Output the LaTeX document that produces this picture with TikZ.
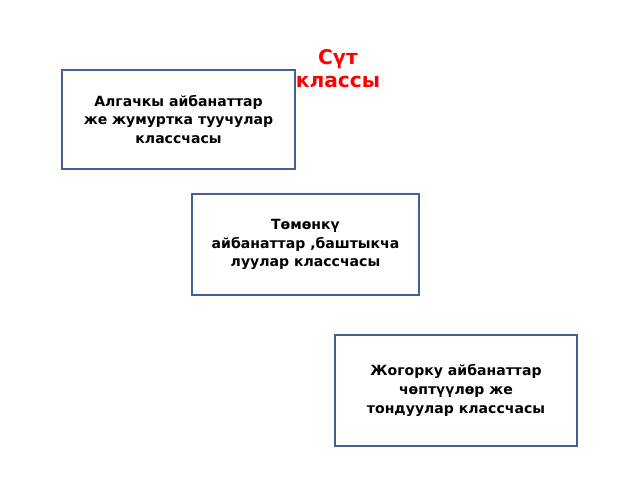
\documentclass[tikz,border=0pt]{standalone}
\usepackage{fontspec}
\setmainfont{DejaVu Sans}
\definecolor{boxline}{RGB}{68,96,150}
\tikzset{
  classbox/.style={draw=boxline,line width=0.9pt,fill=white,align=center,
    font=\bfseries\fontsize{8}{10.6}\selectfont,inner sep=2pt}
}
\begin{document}
\begin{tikzpicture}[x=0.02cm,y=-0.02cm]
\useasboundingbox (0,0) rectangle (640,480);

% title
\node[text=red,font=\bfseries\fontsize{11.5}{13}\selectfont,align=center] (title) at (338,69) {Сүт\\ классы};

% boxes
\node[classbox,minimum width=233*0.02cm,minimum height=99*0.02cm] (first) at (178.5,119.5)
  {Алгачкы айбанаттар\\ же жумуртка туучулар\\ классчасы};
\node[classbox,minimum width=227*0.02cm,minimum height=101*0.02cm] (second) at (305.5,244.5)
  {Төмөнкү\\ айбанаттар ,баштыкча\\ луулар классчасы};
\node[classbox,minimum width=242*0.02cm,minimum height=111*0.02cm] (third) at (456,390.5)
  {Жогорку айбанаттар\\ чөптүүлөр же\\ тондуулар классчасы};
\end{tikzpicture}
\end{document}
